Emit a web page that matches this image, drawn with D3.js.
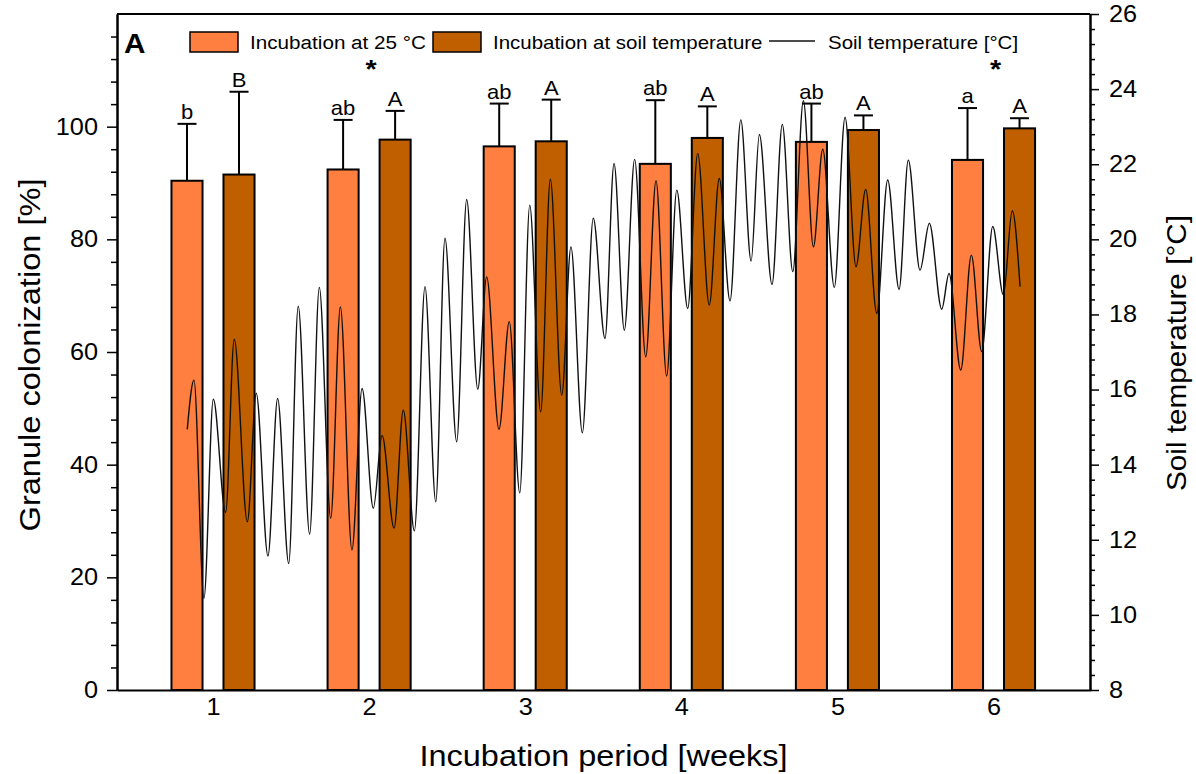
<!DOCTYPE html>
<html><head><meta charset="utf-8">
<script src="https://cdn.jsdelivr.net/npm/d3@7"></script>
<style>
body{margin:0;background:#fff}
svg{display:block}
text{font-family:"Liberation Sans",Arial,Helvetica,sans-serif;fill:#000}
</style>
</head><body>
<svg id="c" width="1196" height="774"></svg>
<script>
// ---------- data ----------
const weeks = [1, 2, 3, 4, 5, 6];
const col25 = [90.4, 92.4, 96.5, 93.4, 97.3, 94.1];
const col25Err = [10.1, 8.8, 7.6, 11.3, 6.8, 9.2];
const colSoil = [91.5, 97.7, 97.4, 98.0, 99.4, 99.7];
const colSoilErr = [14.7, 5.1, 7.4, 5.6, 2.6, 1.8];
const lab25 = ["b", "ab", "ab", "ab", "ab", "a"];
const labSoil = ["B", "A", "A", "A", "A", "A"];
const starWeeks = [2, 6];
const leftTicks = [0, 20, 40, 60, 80, 100];
const rightTicks = [8, 10, 12, 14, 16, 18, 20, 22, 24, 26];
// soil temperature trace (time in weeks, °C)
const tempTime = [0.835,0.878,0.942,1.002,1.081,1.136,1.220,1.277,1.352,1.414,1.485,1.546,1.619,1.681,1.754,1.816,1.890,1.955,2.027,2.083,2.160,2.219,2.290,2.358,2.427,2.486,2.561,2.625,2.696,2.753,2.832,2.898,2.965,3.029,3.099,3.161,3.234,3.293,3.366,3.436,3.511,3.569,3.635,3.701,3.772,3.838,3.906,3.971,4.041,4.105,4.179,4.243,4.312,4.381,4.447,4.500,4.581,4.647,4.714,4.782,4.846,4.906,4.980,5.049,5.119,5.181,5.252,5.322,5.395,5.454,5.529,5.589,5.668,5.715,5.790,5.858,5.924,5.995,6.063,6.120,6.170];
const tempVal = [14.94,16.25,10.44,15.74,12.73,17.34,12.48,15.90,11.57,15.76,11.37,18.22,12.15,18.72,12.57,18.20,11.73,16.03,12.84,14.78,12.31,15.45,12.24,18.74,13.01,20.03,14.61,21.06,16.01,19.00,14.94,17.81,13.25,20.91,15.41,21.60,15.85,19.80,14.85,20.56,17.36,22.02,17.58,22.13,16.87,21.56,16.36,21.31,18.16,22.29,18.25,21.62,18.36,23.18,19.42,22.79,18.80,23.06,19.14,23.69,19.80,22.40,18.72,23.25,19.27,21.33,18.03,21.58,18.67,22.11,19.18,20.43,18.14,19.09,16.52,19.58,17.01,20.34,18.52,20.76,18.74];

// ---------- layout ----------
const L = 117, R = 1090, T = 14, B = 690;
const SX = 1.1; // horizontal text stretch
const C25 = "#FF7F40", CSOIL = "#C05F00";
const svg = d3.select("#c");

const x = d3.scaleLinear().domain([0.385, 6.618]).range([L, R]);
const yL = d3.scaleLinear().domain([0, 120]).range([B, T]);
const yR = d3.scaleLinear().domain([8, 26]).range([B, T]);
const off = 0.1666, bw = 0.199;

function txt(g, px, py, s, size, anchor, weight, rot) {
  return g.append("text")
    .attr("transform", `translate(${px},${py})` + (rot ? ` rotate(${rot})` : "") + ` scale(${SX},1)`)
    .attr("text-anchor", anchor || "start")
    .style("font-size", size + "px")
    .style("font-weight", weight || "normal")
    .text(s);
}

// bars
const bars = svg.append("g");
const series = [
  {vals: col25, err: col25Err, labs: lab25, color: C25, d: -off},
  {vals: colSoil, err: colSoilErr, labs: labSoil, color: CSOIL, d: off}
];
series.forEach(s => {
  weeks.forEach((w, i) => {
    const x0 = x(w + s.d - bw / 2), x1 = x(w + s.d + bw / 2);
    bars.append("rect").attr("x", x0).attr("y", yL(s.vals[i]))
      .attr("width", x1 - x0).attr("height", yL(0) - yL(s.vals[i]))
      .attr("fill", s.color).attr("stroke", "#000").attr("stroke-width", 2);
  });
});

// temperature line
const tdata = tempTime.map((t, i) => [t, tempVal[i]]);
svg.append("path").datum(tdata)
  .attr("d", d3.line().x(d => x(d[0])).y(d => yR(d[1])).curve(d3.curveMonotoneX))
  .attr("fill", "none").attr("stroke", "#111").attr("stroke-width", 1.4);

// error bars and letters
const eb = svg.append("g");
series.forEach(s => {
  weeks.forEach((w, i) => {
    const cx = x(w + s.d), top = yL(s.vals[i] + s.err[i]);
    eb.append("line").attr("x1", cx).attr("x2", cx).attr("y1", yL(s.vals[i])).attr("y2", top)
      .attr("stroke", "#000").attr("stroke-width", 2);
    eb.append("line").attr("x1", cx - 9.5).attr("x2", cx + 9.5).attr("y1", top).attr("y2", top)
      .attr("stroke", "#000").attr("stroke-width", 2);
    txt(eb, cx, top - 5, s.labs[i], 20, "middle");
  });
});
starWeeks.forEach(w => txt(eb, x(w) + 2, 78, "*", 26, "middle", "bold"));

// axes
function stretchTicks(g) {
  g.selectAll(".tick text").each(function () {
    const t = d3.select(this);
    const xx = +t.attr("x") || 0;
    t.attr("x", xx / SX).attr("transform", `scale(${SX},1)`);
  });
}
const gl = svg.append("g").attr("transform", `translate(${L},0)`);
gl.append("g").call(d3.axisLeft(yL).tickValues(d3.range(0, 121, 4).filter(v => v % 20)).tickSize(6).tickFormat("").tickSizeOuter(0));
gl.append("g").call(d3.axisLeft(yL).tickValues(leftTicks).tickSize(10).tickPadding(9).tickSizeOuter(0));
const gr = svg.append("g").attr("transform", `translate(${R},0)`);
gr.append("g").call(d3.axisRight(yR).tickValues(d3.range(0, 46).filter(i => i % 5).map(i => 8 + i * 0.4)).tickSize(5).tickFormat("").tickSizeOuter(0));
gr.append("g").call(d3.axisRight(yR).tickValues(rightTicks).tickSize(9).tickPadding(10).tickSizeOuter(0));
const gb = svg.append("g").attr("transform", `translate(0,${B})`);
gb.call(d3.axisBottom(x).tickValues(weeks).tickFormat(d3.format("d")).tickSize(0).tickPadding(9).tickSizeOuter(0));
[gl, gr, gb].forEach(g => {
  g.selectAll(".tick text").style("font-size", "23px").style("font-family", '"Liberation Sans",Arial,sans-serif');
  stretchTicks(g);
  g.selectAll("path.domain").attr("stroke-width", 2);
  g.selectAll(".tick line").attr("stroke-width", 1.5);
});
svg.append("line").attr("x1", L).attr("x2", R).attr("y1", T).attr("y2", T).attr("stroke", "#000").attr("stroke-width", 2);

// titles
txt(svg, (L + R) / 2, 766, "Incubation period [weeks]", 29.5, "middle");
txt(svg, 40, 355, "Granule colonization [%]", 29.6, "middle", "normal", -90);
txt(svg, 1186, 353, "Soil temperature [°C]", 27, "middle", "normal", -90);
txt(svg, 124, 53, "A", 27, "start", "bold");

// legend
const lg = svg.append("g");
lg.append("rect").attr("x", 190).attr("y", 32).attr("width", 48).attr("height", 20).attr("fill", C25).attr("stroke", "#000").attr("stroke-width", 1.5);
txt(lg, 250, 49, "Incubation at 25 °C", 18.8);
lg.append("rect").attr("x", 433).attr("y", 32).attr("width", 48).attr("height", 20).attr("fill", CSOIL).attr("stroke", "#000").attr("stroke-width", 1.5);
txt(lg, 493, 49, "Incubation at soil temperature", 18.6);
lg.append("line").attr("x1", 769).attr("x2", 815).attr("y1", 41).attr("y2", 41).attr("stroke", "#111").attr("stroke-width", 1.4);
txt(lg, 828, 49, "Soil temperature [°C]", 18.6);
</script>
</body></html>
